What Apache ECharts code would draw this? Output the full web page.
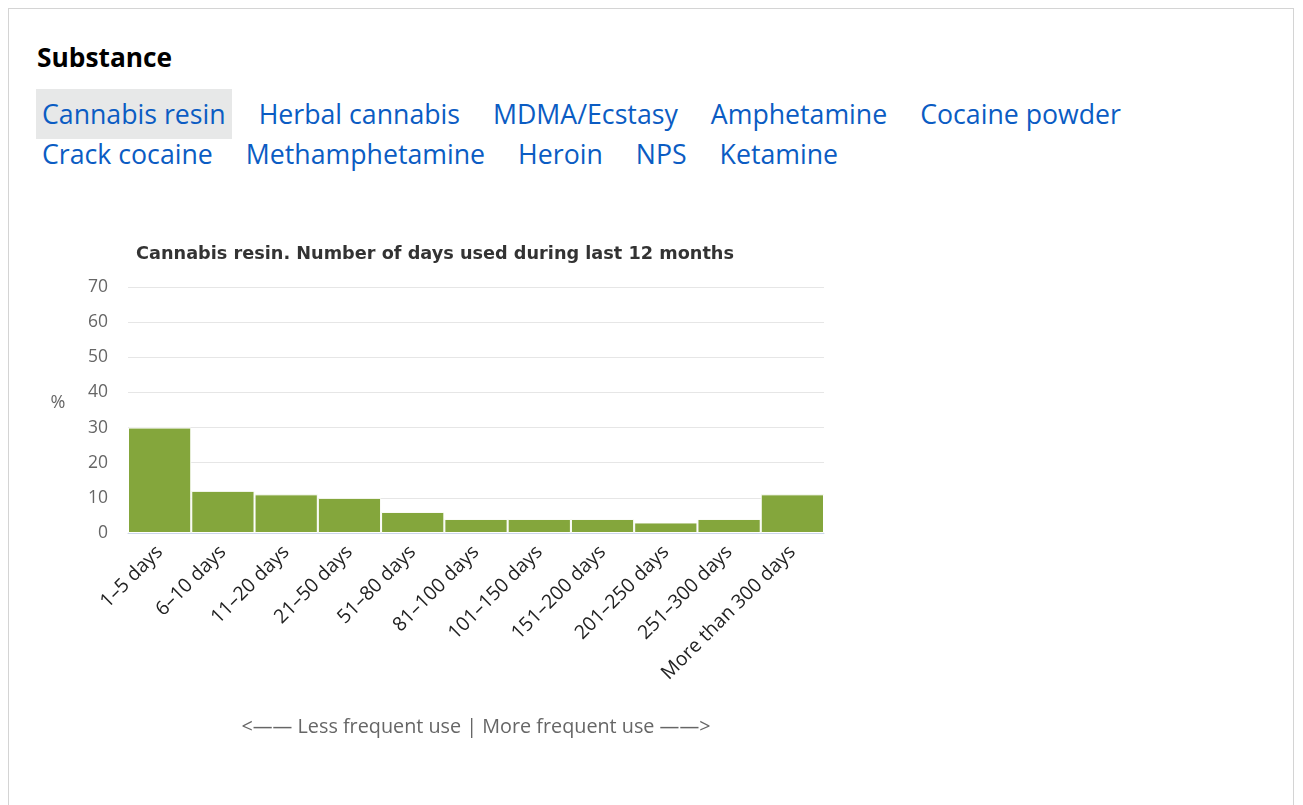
<!DOCTYPE html>
<html>
<head>
<meta charset="utf-8">
<script src="https://cdn.jsdelivr.net/npm/echarts@6/dist/echarts.min.js"></script>
<style>
  body { margin: 0; background: #fff; font-family: "Open Sans", sans-serif; }
  .box { position: absolute; left: 8px; top: 8px; width: 1284px; height: 820px; border: 1px solid #d4d4d4; }
  h3 { position: absolute; left: 28px; top: 30px; margin: 0; font-size: 26.3px; font-weight: 700; color: #000; }
  .tabs { position: absolute; left: 27px; top: 80px; width: 1150px; display: flex; flex-wrap: wrap; column-gap: 21px; row-gap: 0; }
  .tabs a { font-size: 26.7px; line-height: 40px; padding: 5px 6px; margin-bottom: -10px; color: #0b5cc3; text-decoration: none; }
  .tabs a.on { background: #e7e8e8; }
  #chart { position: absolute; left: 32px; top: 222px; width: 820px; height: 530px; }
</style>
</head>
<body>
<div class="box">
  <h3>Substance</h3>
  <div class="tabs">
    <a class="on">Cannabis resin</a><a>Herbal cannabis</a><a>MDMA/Ecstasy</a><a>Amphetamine</a><a>Cocaine powder</a>
    <a>Crack cocaine</a><a>Methamphetamine</a><a>Heroin</a><a>NPS</a><a>Ketamine</a>
  </div>
  <div id="chart"></div>
</div>
<script>
var categories = ['1–5 days', '6–10 days', '11–20 days', '21–50 days', '51–80 days', '81–100 days',
  '101–150 days', '151–200 days', '201–250 days', '251–300 days', 'More than 300 days'];
var values = [30, 12, 11, 10, 6, 4, 4, 4, 3, 4, 11];
var chartTitle = 'Cannabis resin. Number of days used during last 12 months';
var yName = '%';
var footnote = '<—— Less frequent use | More frequent use ——>';

var myChart = echarts.init(document.getElementById('chart'));
myChart.setOption({
  animation: false,
  title: {
    text: chartTitle,
    left: 389, top: 9, textAlign: 'center',
    textStyle: { color: '#333', fontWeight: 'bold', fontSize: 17.7, fontFamily: 'DejaVu Sans' }
  },
  grid: { left: 87, top: 56, width: 696, height: 246 },
  xAxis: {
    type: 'category',
    data: categories,
    axisTick: { show: false },
    axisLine: { lineStyle: { color: '#ccd6eb' } },
    axisLabel: { rotate: 45, interval: 0, color: '#222', fontSize: 19.5, fontFamily: 'Open Sans', margin: 16 }
  },
  yAxis: {
    type: 'value',
    min: 0, max: 70, interval: 10,
    axisLabel: { color: '#666', fontSize: 17.5, fontFamily: 'Open Sans', margin: 20 },
    splitLine: { lineStyle: { color: '#e6e6e6' } }
  },
  graphic: [{
    type: 'text', x: 17, y: 172,
    style: { text: yName, fill: '#666', fontSize: 18, fontFamily: 'Open Sans', align: 'center', verticalAlign: 'middle' }
  }, {
    type: 'text', x: 435, y: 496,
    style: { text: footnote, fill: '#666', fontSize: 19.8, fontFamily: 'Open Sans', align: 'center', verticalAlign: 'middle' }
  }],
  series: [{
    type: 'bar',
    data: values,
    barCategoryGap: 0,
    itemStyle: { color: '#84a63c', borderColor: '#fff', borderWidth: 1 }
  }]
});
</script>
</body>
</html>
